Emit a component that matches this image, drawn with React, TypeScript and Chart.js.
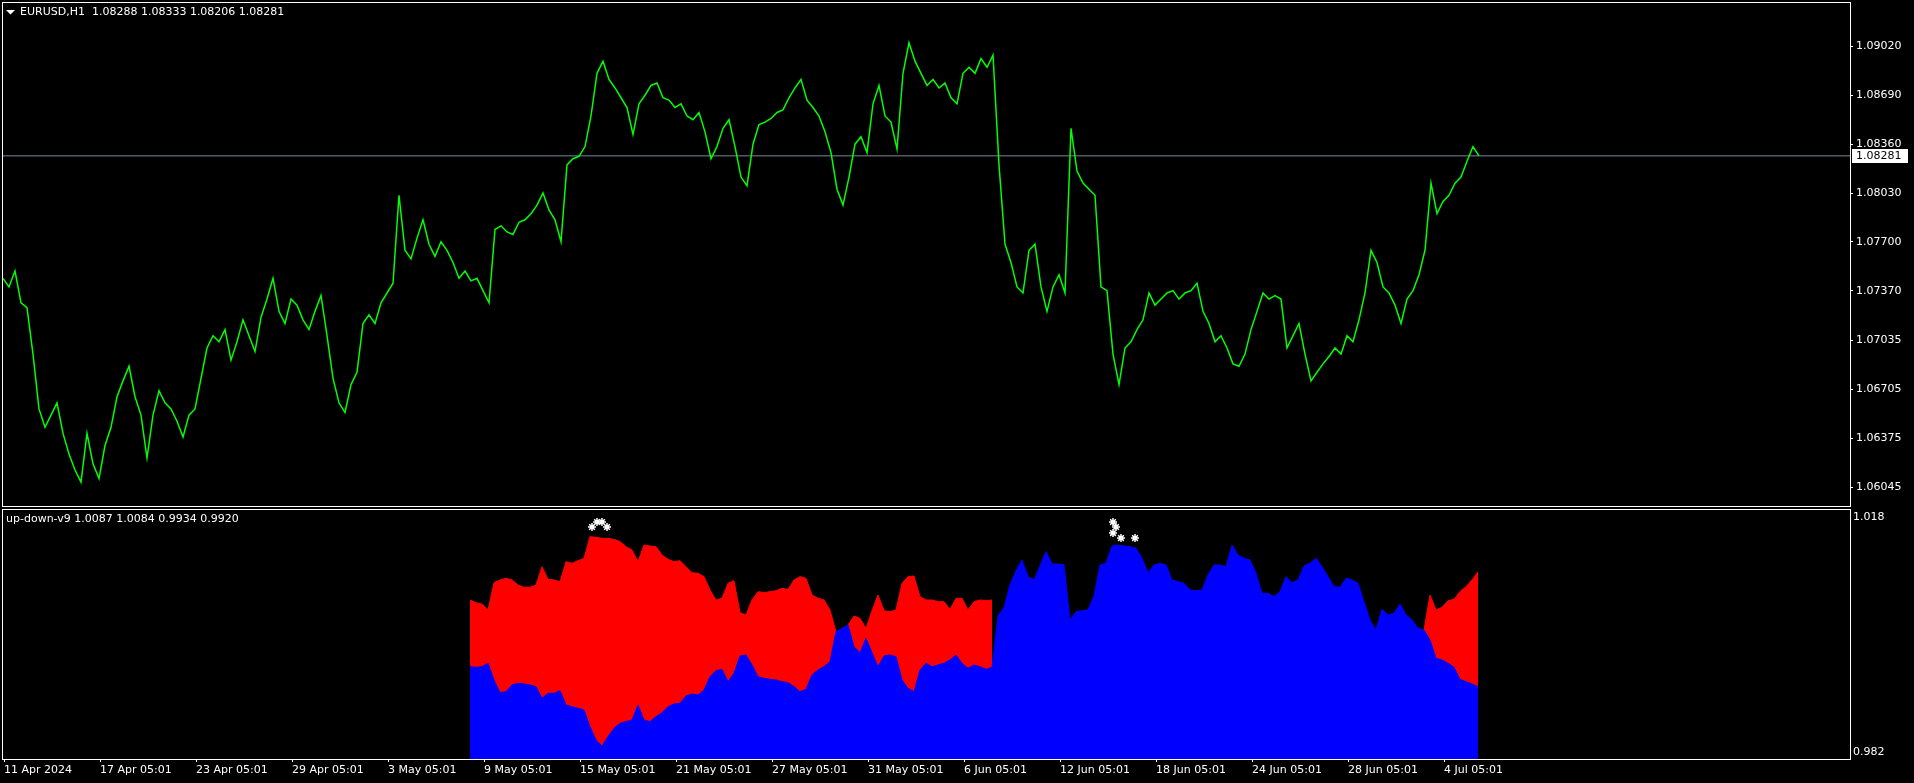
import React, { useEffect, useRef } from 'react';
import { Chart, registerables } from 'chart.js';

Chart.register(...registerables);

// ---------- data ----------
const SYMBOL = 'EURUSD,H1';
const OHLC = ['1.08288', '1.08333', '1.08206', '1.08281'];
const IND_NAME = 'up-down-v9';
const IND_VALUES = ['1.0087', '1.0084', '0.9934', '0.9920'];
const LAST_PRICE = 1.08281;

// hourly bars; one close sampled every PRICE_STEP bars, starting at bar 0
const PRICE_STEP = 6;
const priceClose = [
  1.07455, 1.07397, 1.07504, 1.0729, 1.07257, 1.06944, 1.06574, 1.0645, 1.06532, 1.06615,
  1.06409, 1.06269, 1.06162, 1.0608, 1.06409, 1.06203, 1.06104, 1.06327, 1.0645, 1.06656,
  1.06763, 1.06862, 1.06656, 1.06532, 1.06244, 1.06532, 1.06697, 1.06615, 1.06574, 1.06491,
  1.06384, 1.06532, 1.06574, 1.0678, 1.06985, 1.07068, 1.07027, 1.07109, 1.06903, 1.07027,
  1.07175, 1.07068, 1.06961, 1.07191, 1.07315, 1.07455, 1.07232, 1.0715, 1.07315, 1.07274,
  1.07175, 1.07109, 1.07232, 1.07339, 1.07068, 1.0678, 1.06615, 1.06549, 1.06738, 1.06821,
  1.0715, 1.07208, 1.0715, 1.0729, 1.07356, 1.07422, 1.08015, 1.07644, 1.07586, 1.07726,
  1.0785, 1.07685, 1.07603, 1.07702, 1.07644, 1.07562, 1.07455, 1.07504, 1.07438, 1.07455,
  1.07372, 1.0729, 1.07784, 1.07809, 1.07768, 1.07751, 1.07833, 1.0785, 1.07891, 1.07949,
  1.08031, 1.07916, 1.0785, 1.07702, 1.0822, 1.08262, 1.08278, 1.08344, 1.0855, 1.08838,
  1.0892, 1.08797, 1.08739, 1.08673, 1.08607, 1.08426, 1.08632, 1.0869, 1.08756, 1.08772,
  1.08673, 1.08657, 1.08607, 1.08632, 1.0855, 1.08525, 1.08574, 1.08443, 1.08262, 1.08344,
  1.08467, 1.08525, 1.08344, 1.08138, 1.0808, 1.0836, 1.08492, 1.08509, 1.08533, 1.08574,
  1.08591, 1.08673, 1.08739, 1.08797, 1.08657, 1.08607, 1.0855, 1.08443, 1.08303, 1.08056,
  1.07949, 1.08138, 1.0836, 1.0841, 1.08303, 1.08632, 1.08756, 1.0855, 1.08509, 1.08327,
  1.08838, 1.09044, 1.0892, 1.08838, 1.08756, 1.08797, 1.08739, 1.08772, 1.08673, 1.08632,
  1.08838, 1.08879, 1.08838, 1.08937, 1.08879, 1.08961, 1.0822, 1.07685, 1.07562, 1.07397,
  1.07356, 1.07644, 1.07685, 1.07397, 1.07232, 1.07397, 1.07479, 1.07356, 1.08467, 1.08179,
  1.08097, 1.08056, 1.08015, 1.07397, 1.07372, 1.06944, 1.06738, 1.06985, 1.07027, 1.07109,
  1.07175, 1.07356, 1.07274, 1.07315, 1.07356, 1.07372, 1.07315, 1.07356, 1.07372, 1.07422,
  1.07232, 1.0715, 1.07027, 1.07068, 1.06985, 1.06878, 1.06862, 1.06944, 1.07109, 1.07232,
  1.07356, 1.07315, 1.07339, 1.07315, 1.06985, 1.07068, 1.0715, 1.06944, 1.06763, 1.06821,
  1.06878, 1.06928, 1.06985, 1.06944, 1.07068, 1.07027, 1.07175, 1.07356, 1.07644, 1.07562,
  1.07397, 1.07356, 1.07274, 1.0715, 1.07315, 1.07372, 1.07479, 1.07644, 1.08097, 1.07891,
  1.07973, 1.08015, 1.08097, 1.08138, 1.08245, 1.08344, 1.08281,
];

// indicator: sampled every IND_STEP bars from bar IND_START
const IND_START = 467;
const IND_STEP = 6;
const redTop = [
  1.0049, 1.00451, 1.00432, 1.00346, 1.00739, 1.00778, 1.00802, 1.00778, 1.00706, 1.00672,
  1.00672, 1.00706, 1.0097, 1.00787, 1.00778, 1.00754, 1.01042, 1.01018, 1.01056, 1.0109,
  1.01402, 1.01392, 1.01378, 1.01378, 1.01363, 1.0133, 1.01258, 1.0121, 1.01042, 1.01282,
  1.01267, 1.01258, 1.01138, 1.01075, 1.01042, 1.01056, 1.0097, 1.00883, 1.00874, 1.00826,
  1.00634, 1.0049, 1.00514, 1.0073, 1.00768, 1.00307, 1.00274, 1.0049, 1.0061, 1.00595,
  1.0061, 1.00624, 1.00658, 1.00643, 1.00778, 1.00826, 1.00802, 1.00562, 1.00514, 1.0049,
  1.00346, 1.00034, null, 1.0013, 1.00259, 1.00226, 1.00082, 1.00336, 1.00562, 1.00336,
  1.00322, 1.00346, 1.0073, 1.00826, 1.00835, 1.00538, 1.0049, 1.0049, 1.00466, 1.00466,
  1.00355, 1.00514, 1.00514, 1.00346, 1.00466, 1.0049, 1.0048, 1.0049, null, null,
  null, null, null, null, null, null, null, null, null, null,
  null, null, null, null, null, null, null, null, null, null,
  null, null, null, null, null, null, null, null, null, null,
  null, null, null, null, null, null, null, null, null, null,
  null, null, null, null, null, null, null, null, null, null,
  null, null, null, null, null, null, null, null, null, null,
  null, null, null, null, null, null, null, null, null, 1.00058,
  1.00562, 1.00346, 1.00384, 1.0048, 1.00499, 1.0061, 1.00682, 1.00778, 1.00898,
];
const blueTop = [
  0.9953, 0.9952, 0.9953, 0.99578, 0.99338, 0.99155, 0.9917, 0.99266, 0.9929, 0.9928,
  0.99266, 0.99242, 0.99074, 0.99146, 0.99146, 0.99184, 0.98978, 0.98954, 0.9893, 0.98906,
  0.98666, 0.98474, 0.98387, 0.98522, 0.98642, 0.98714, 0.98738, 0.98762, 0.98978, 0.98762,
  0.98738, 0.9881, 0.98867, 0.98954, 0.98992, 0.99002, 0.99107, 0.99136, 0.99122, 0.99194,
  0.99386, 0.99472, 0.99491, 0.99314, 0.99434, 0.99683, 0.99698, 0.99554, 0.99386, 0.99362,
  0.99347, 0.99338, 0.99314, 0.99299, 0.99242, 0.9917, 0.99203, 0.9941, 0.99482, 0.9953,
  0.99602, 1.00034, 1.00082, 1.0013, 0.99818, 0.99731, 0.99938, 0.99731, 0.9953, 0.99683,
  0.99698, 0.99674, 0.99338, 0.99218, 0.9917, 0.99482, 0.99578, 0.9953, 0.99554, 0.99578,
  0.99626, 0.99698, 0.99578, 0.99506, 0.99554, 0.9953, 0.99491, 0.9952, 1.00259, 1.0038,
  1.00706, 1.00912, 1.01066, 1.00826, 1.00778, 1.00979, 1.01186, 1.01008, 1.01008, 1.00998,
  1.00202, 1.00322, 1.00336, 1.00346, 1.00547, 1.00994, 1.01018, 1.01267, 1.01282, 1.01267,
  1.01258, 1.01234, 1.0109, 1.00883, 1.00994, 1.01018, 1.00994, 1.00778, 1.00754, 1.0073,
  1.00634, 1.00624, 1.00634, 1.0085, 1.00994, 1.00994, 1.0097, 1.01282, 1.01138, 1.0109,
  1.01066, 1.00874, 1.00586, 1.00586, 1.00538, 1.0061, 1.00826, 1.00739, 1.00778, 1.00979,
  1.01018, 1.0109, 1.0097, 1.00826, 1.00682, 1.00672, 1.00802, 1.00778, 1.0073, 1.00466,
  1.00202, 1.00058, 1.00355, 1.00274, 1.00298, 1.00432, 1.00274, 1.00202, 1.00082, 1.00058,
  0.99914, 0.9965, 0.99626, 0.99578, 0.9952, 0.99347, 0.99314, 0.9928, 0.99242,
];

// signal markers (asterisks)
const starBars = [589, 594, 599, 604, 1110, 1113, 1110, 1118, 1132];
const starValues = [1.01541, 1.01613, 1.01613, 1.01541, 1.01613, 1.01541, 1.01454, 1.01382, 1.01382];

// axes
const priceTicks = [1.0902, 1.0869, 1.0836, 1.0803, 1.077, 1.0737, 1.07035, 1.06705, 1.06375, 1.06045];
const xTickBars = [1, 97, 193, 289, 385, 481, 577, 673, 769, 865, 961, 1057, 1153, 1249, 1345, 1441];
const xTickLabels = [
  '11 Apr 2024', '17 Apr 05:01', '23 Apr 05:01', '29 Apr 05:01', '3 May 05:01', '9 May 05:01',
  '15 May 05:01', '21 May 05:01', '27 May 05:01', '31 May 05:01', '6 Jun 05:01', '12 Jun 05:01',
  '18 Jun 05:01', '24 Jun 05:01', '28 Jun 05:01', '4 Jul 05:01',
];
const X_MIN = -1;
const X_MAX = 1847;
const PRICE_MIN = 1.05919;
const PRICE_MAX = 1.09319;
const IND_MIN = 0.982;
const IND_MAX = 1.018;

// ---------- styling ----------
const FONT_FAMILY = 'DejaVu Sans';
const FONT = { family: FONT_FAMILY, size: 11 };
const FONT_CSS = `11px "${FONT_FAMILY}"`;
const WHITE = '#ffffff';

const topDecor = {
  id: 'topDecor',
  afterDraw(chart: any) {
    const { ctx, chartArea: a, scales } = chart;
    ctx.save();
    ctx.strokeStyle = WHITE;
    ctx.lineWidth = 1;
    ctx.strokeRect(a.left + 0.5, a.top + 0.5, a.right - a.left, a.bottom - a.top);
    // header
    ctx.fillStyle = WHITE;
    ctx.beginPath();
    ctx.moveTo(a.left + 4, a.top + 8);
    ctx.lineTo(a.left + 13, a.top + 8);
    ctx.lineTo(a.left + 8.5, a.top + 12.5);
    ctx.closePath();
    ctx.fill();
    ctx.font = FONT_CSS;
    ctx.textBaseline = 'middle';
    ctx.textAlign = 'left';
    ctx.fillText(`${SYMBOL}  ${OHLC.join(' ')}`, a.left + 18, a.top + 10.5);
    // current price label
    const y = Math.round(scales.y.getPixelForValue(LAST_PRICE));
    ctx.fillStyle = WHITE;
    ctx.fillRect(a.right + 2, y - 7, 56, 14);
    ctx.fillStyle = '#000000';
    ctx.fillText(LAST_PRICE.toFixed(5), a.right + 6, y + 0.5);
    ctx.restore();
  },
};

const bottomDecor = {
  id: 'bottomDecor',
  afterDraw(chart: any) {
    const { ctx, chartArea: a, scales } = chart;
    ctx.save();
    ctx.strokeStyle = WHITE;
    ctx.lineWidth = 1;
    ctx.strokeRect(a.left + 0.5, a.top + 0.5, a.right - a.left, a.bottom - a.top);
    ctx.fillStyle = WHITE;
    ctx.font = FONT_CSS;
    ctx.textBaseline = 'middle';
    ctx.textAlign = 'left';
    ctx.fillText(`${IND_NAME} ${IND_VALUES.join(' ')}`, a.left + 4, a.top + 10.5);
    ctx.fillText(scales.y.max.toFixed(3), a.right + 3, a.top + 8);
    ctx.fillText(scales.y.min.toFixed(3), a.right + 3, a.bottom - 7);
    ctx.restore();
  },
};

export default function App() {
  const topRef = useRef<HTMLCanvasElement>(null);
  const botRef = useRef<HTMLCanvasElement>(null);

  useEffect(() => {
    document.body.style.margin = '0';
    document.body.style.background = '#000';

    const priceData = priceClose.map((v, i) => ({ x: i * PRICE_STEP, y: v }));
    const redData = redTop.map((v, i) => ({ x: IND_START + i * IND_STEP, y: v }));
    const blueData = blueTop.map((v, i) => ({ x: IND_START + i * IND_STEP, y: v }));
    const starData = starBars.map((b, i) => ({ x: b, y: starValues[i] }));

    const top = new Chart(topRef.current as HTMLCanvasElement, {
      type: 'line',
      data: {
        datasets: [
          {
            data: priceData,
            borderColor: '#00ff00',
            borderWidth: 1.5,
            pointRadius: 0,
            pointHoverRadius: 0,
            tension: 0,
            fill: false,
          },
          {
            data: [
              { x: X_MIN, y: LAST_PRICE },
              { x: X_MAX, y: LAST_PRICE },
            ],
            borderColor: '#778899',
            borderWidth: 1,
            pointRadius: 0,
            pointHoverRadius: 0,
            fill: false,
          },
        ],
      },
      options: {
        animation: false,
        responsive: false,
        devicePixelRatio: 1,
        events: [],
        layout: { autoPadding: false, padding: { left: 2, top: 2, right: 0, bottom: 2 } },
        plugins: { legend: { display: false }, tooltip: { enabled: false } },
        scales: {
          x: { type: 'linear', min: X_MIN, max: X_MAX, display: false },
          y: {
            type: 'linear',
            position: 'right',
            min: PRICE_MIN,
            max: PRICE_MAX,
            afterBuildTicks: (s: any) => {
              s.ticks = priceTicks.map((v) => ({ value: v }));
            },
            afterFit: (s: any) => {
              s.width = 64;
              s.paddingTop = 0;
              s.paddingBottom = 0;
            },
            grid: { drawOnChartArea: false, drawTicks: true, tickLength: 3, color: WHITE },
            border: { display: false },
            ticks: {
              color: WHITE,
              font: FONT,
              padding: 3,
              autoSkip: false,
              callback: (v: any) => Number(v).toFixed(5),
            },
          },
        },
      } as any,
      plugins: [topDecor],
    });

    const bot = new Chart(botRef.current as HTMLCanvasElement, {
      type: 'line',
      data: {
        datasets: [
          {
            data: starData,
            showLine: false,
            pointStyle: 'star',
            pointRadius: 4,
            pointHoverRadius: 4,
            pointBorderColor: WHITE,
            pointBackgroundColor: WHITE,
            pointBorderWidth: 1.5,
            fill: false,
          },
          {
            data: blueData,
            borderColor: '#0000ff',
            backgroundColor: '#0000ff',
            borderWidth: 1,
            pointRadius: 0,
            pointHoverRadius: 0,
            tension: 0,
            fill: 'start',
          },
          {
            data: redData,
            borderColor: '#ff0000',
            backgroundColor: '#ff0000',
            borderWidth: 1,
            pointRadius: 0,
            pointHoverRadius: 0,
            tension: 0,
            spanGaps: false,
            fill: 'start',
          },
        ],
      },
      options: {
        animation: false,
        responsive: false,
        devicePixelRatio: 1,
        events: [],
        layout: { autoPadding: false, padding: { left: 2, top: 1, right: 0, bottom: 0 } },
        plugins: { legend: { display: false }, tooltip: { enabled: false } },
        scales: {
          x: {
            type: 'linear',
            position: 'bottom',
            min: X_MIN,
            max: X_MAX,
            afterBuildTicks: (s: any) => {
              s.ticks = xTickBars.map((v) => ({ value: v }));
            },
            afterFit: (s: any) => {
              s.height = 24;
              s.paddingLeft = 0;
              s.paddingRight = 0;
            },
            grid: { drawOnChartArea: false, drawTicks: true, tickLength: 3, color: WHITE },
            border: { display: false },
            ticks: {
              color: WHITE,
              font: FONT,
              padding: 2,
              autoSkip: false,
              maxRotation: 0,
              minRotation: 0,
              align: 'start',
              callback: (_v: any, i: number) => xTickLabels[i],
            },
          },
          y: {
            type: 'linear',
            position: 'right',
            min: IND_MIN,
            max: IND_MAX,
            afterFit: (s: any) => {
              s.width = 64;
              s.paddingTop = 0;
              s.paddingBottom = 0;
            },
            grid: { display: false },
            border: { display: false },
            ticks: { display: false },
          },
        },
      } as any,
      plugins: [bottomDecor],
    });

    return () => {
      top.destroy();
      bot.destroy();
    };
  }, []);

  return (
    <div style={{ position: 'relative', width: 1914, height: 783, background: '#000', overflow: 'hidden' }}>
      <canvas
        ref={topRef}
        width={1914}
        height={508}
        style={{ position: 'absolute', left: 0, top: 0, width: 1914, height: 508 }}
      />
      <canvas
        ref={botRef}
        width={1914}
        height={275}
        style={{ position: 'absolute', left: 0, top: 508, width: 1914, height: 275 }}
      />
    </div>
  );
}
